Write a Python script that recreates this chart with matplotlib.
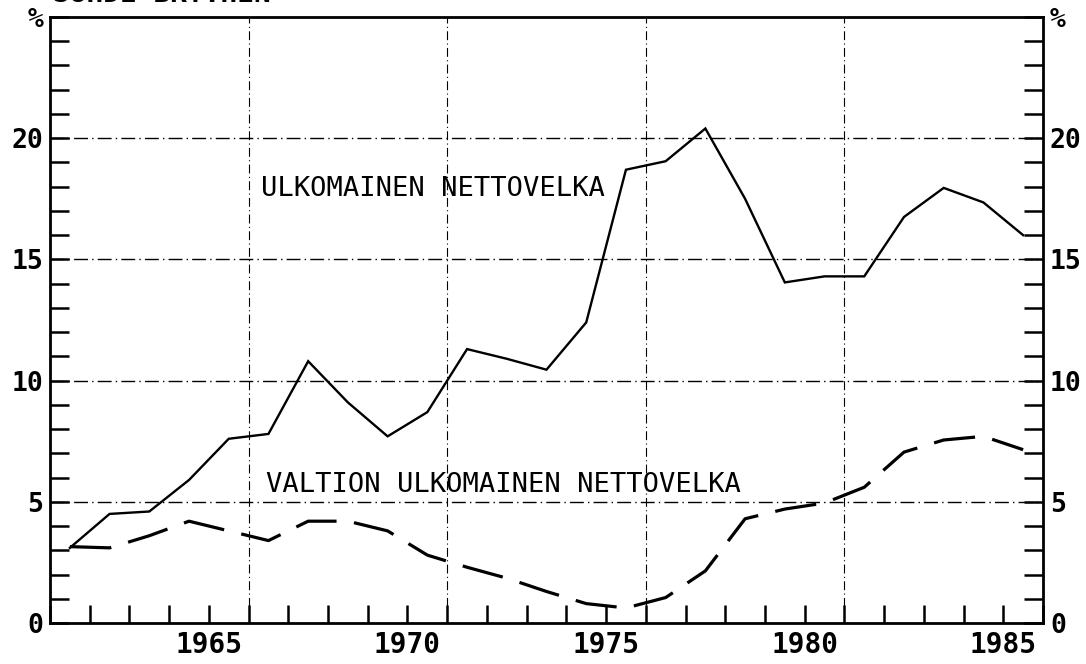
import numpy as np
import matplotlib
matplotlib.use("Agg")
import matplotlib.pyplot as plt
from matplotlib.ticker import FixedLocator, MultipleLocator

years = list(range(1961, 1986))
net_debt = [3.1, 4.5, 4.6, 5.9, 7.6, 7.8, 10.8, 9.1, 7.7, 8.7, 11.3, 10.9, 10.45, 12.4,
            18.7, 19.05, 20.4, 17.5, 14.05, 14.3, 14.3, 16.75, 17.95, 17.35, 16.0]
state_debt = [3.15, 3.1, 3.6, 4.2, 3.8, 3.4, 4.2, 4.2, 3.8, 2.8, 2.3, 1.85, 1.3, 0.8,
              0.62, 1.05, 2.15, 4.3, 4.7, 4.95, 5.6, 7.05, 7.55, 7.7, 7.15]
x_labels = ["1965", "1970", "1975", "1980", "1985"]
x_label_pos = [1965, 1970, 1975, 1980, 1985]
y_labels = ["0", "5", "10", "15", "20", "%"]
y_label_pos = [0, 5, 10, 15, 20, 25]
grid_x = [1966, 1971, 1976, 1981]
grid_y = [5, 10, 15, 20]
label_net = "ULKOMAINEN NETTOVELKA"
label_state = "VALTION ULKOMAINEN NETTOVELKA"
cut_title = "SUHDE BKT:HEN"

plt.rcParams['font.family'] = ['DejaVu Sans Mono']

fig = plt.figure(figsize=(10.86, 6.64), dpi=100)
ax = fig.add_axes([50/1086, 1-623/664, (1043-50)/1086, (623-17)/664])

xs = np.array(years) + 0.5
ax.plot(xs, net_debt, color='black', lw=1.7, solid_joinstyle='miter')
ax.plot(xs, state_debt, color='black', lw=2.3, linestyle=(0, (13, 5.5)))

for gx in grid_x:
    ax.axvline(gx, color='black', lw=0.8, linestyle=(0, (8, 3, 1, 3)), zorder=0)
for gy in grid_y:
    ax.axhline(gy, color='black', lw=1.0, linestyle=(0, (10, 3, 1, 3)), zorder=0)

ax.set_xlim(1961, 1986)
ax.set_ylim(0, 25)

ax.xaxis.set_major_locator(FixedLocator(x_label_pos))
ax.set_xticklabels(x_labels)
ax.xaxis.set_minor_locator(MultipleLocator(1))
ax.yaxis.set_major_locator(FixedLocator(y_label_pos))
ax.set_yticklabels(y_labels)
ax.yaxis.set_minor_locator(MultipleLocator(1))

ax.tick_params(axis='x', which='both', direction='in', length=13, width=1.8,
               top=False, bottom=True, labelsize=20, pad=6)
ax.tick_params(axis='y', which='both', direction='in', length=14, width=1.8,
               left=True, right=True, labelleft=True, labelright=True,
               labelsize=19, pad=5)
for t in ax.xaxis.get_major_ticks():
    t.label1.set_fontweight('bold')
for t in ax.yaxis.get_major_ticks():
    t.label1.set_fontweight('bold')
    t.label2.set_fontweight('bold')
for s in ax.spines.values():
    s.set_linewidth(2.0)

ax.text(1966.3, 17.9, label_net, fontsize=19.5, ha='left', va='center')
ax.text(1966.45, 5.7, label_state, fontsize=19.5, ha='left', va='center')

fig.text(53/1086, 1 - 2.5/664, cut_title, fontsize=20, fontweight='bold',
         ha='left', va='baseline')

fig.savefig("out.png", dpi=100)
